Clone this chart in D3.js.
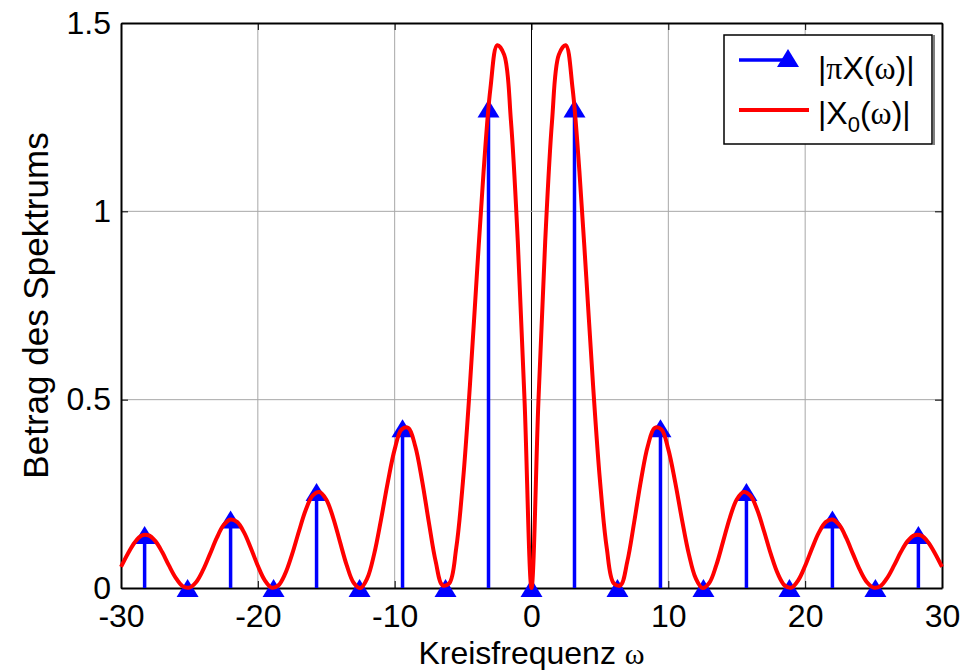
<!DOCTYPE html>
<html>
<head>
<meta charset="utf-8">
<script src="https://cdn.jsdelivr.net/npm/d3@7"></script>
<style>
  body { margin: 0; background: #fff; }
  svg { display: block; font-family: "Liberation Sans", Arial, sans-serif; }
</style>
</head>
<body>
<svg width="976" height="670"></svg>
<script>
// stem samples: omega = k*pi, k = -9..9
var stemOmega = [-28.274, -25.133, -21.991, -18.850, -15.708, -12.566, -9.425, -6.283, -3.142, 0,
                 3.142, 6.283, 9.425, 12.566, 15.708, 18.850, 21.991, 25.133, 28.274];
var stemValues = [0.141, 0, 0.182, 0, 0.255, 0, 0.424, 0, 1.273, 0,
                  1.273, 0, 0.424, 0, 0.255, 0, 0.182, 0, 0.141];

// continuous spectrum |X0(w)|, read every 0.5 from -30 to 30
var curveStart = -30, curveStep = 0.5;
var curveValues = [
  0.056, 0.091, 0.121, 0.139, 0.140, 0.125, 0.096, 0.060, 0.027, 0.005,
  0.001, 0.016, 0.048, 0.090, 0.133, 0.167, 0.182, 0.175, 0.147, 0.105,
  0.059, 0.021, 0.001, 0.007, 0.038, 0.089, 0.150, 0.207, 0.245, 0.255,
  0.235, 0.187, 0.123, 0.060, 0.014, 0.000, 0.026, 0.090, 0.181, 0.281,
  0.368, 0.421, 0.425, 0.377, 0.286, 0.174, 0.070, 0.007, 0.013, 0.106,
  0.287, 0.538, 0.827, 1.107, 1.327, 1.441, 1.416, 1.239, 0.919, 0.490,
  0,
  0.490, 0.919, 1.239, 1.416, 1.441, 1.327, 1.107, 0.827, 0.538, 0.287,
  0.106, 0.013, 0.007, 0.070, 0.174, 0.286, 0.377, 0.425, 0.421, 0.368,
  0.281, 0.181, 0.090, 0.026, 0.000, 0.014, 0.060, 0.123, 0.187, 0.235,
  0.255, 0.245, 0.207, 0.150, 0.089, 0.038, 0.007, 0.001, 0.021, 0.059,
  0.105, 0.147, 0.175, 0.182, 0.167, 0.133, 0.090, 0.048, 0.016, 0.001,
  0.005, 0.027, 0.060, 0.096, 0.125, 0.140, 0.139, 0.121, 0.091, 0.056
];

var xTicks = [-30, -20, -10, 0, 10, 20, 30];
var yTicks = [0, 0.5, 1, 1.5];

var svg = d3.select("svg"),
    margin = {top: 23, right: 34, bottom: 82, left: 121},
    width = +svg.attr("width") - margin.left - margin.right,
    height = +svg.attr("height") - margin.top - margin.bottom,
    g = svg.append("g").attr("transform", "translate(" + margin.left + "," + margin.top + ")");

var x = d3.scaleLinear().domain([-30, 30]).range([0, width]);
var y = d3.scaleLinear().domain([0, 1.5]).range([height, 0]);

// grid
g.selectAll(".gx").data(xTicks.slice(1, -1)).enter().append("line")
    .attr("x1", function(d) { return x(d); }).attr("x2", function(d) { return x(d); })
    .attr("y1", 0).attr("y2", height)
    .attr("stroke", function(d) { return d === 0 ? "#000" : "#a8a8a8"; })
    .attr("stroke-width", 1);
g.selectAll(".gy").data(yTicks.slice(1, -1)).enter().append("line")
    .attr("x1", 0).attr("x2", width)
    .attr("y1", function(d) { return y(d); }).attr("y2", function(d) { return y(d); })
    .attr("stroke", "#a8a8a8")
    .attr("stroke-width", 1);

// axes
var fmt = function(d) { return String(d); };

g.append("g")
    .attr("transform", "translate(0," + height + ")")
    .call(d3.axisBottom(x).tickValues(xTicks).tickFormat(fmt).tickSizeInner(-7).tickSizeOuter(0).tickPadding(16));
g.append("g")
    .call(d3.axisLeft(y).tickValues(yTicks).tickFormat(fmt).tickSizeInner(-7).tickSizeOuter(0).tickPadding(10));
g.append("g")
    .call(d3.axisTop(x).tickValues(xTicks).tickFormat("").tickSizeInner(-7).tickSizeOuter(0));
g.append("g")
    .attr("transform", "translate(" + width + ",0)")
    .call(d3.axisRight(y).tickValues(yTicks).tickFormat("").tickSizeInner(-7).tickSizeOuter(0));

g.selectAll(".domain").attr("stroke", "#000").attr("stroke-width", 2);
g.selectAll(".tick line").attr("stroke", "#000");
g.selectAll(".tick text")
    .attr("fill", "#000")
    .style("font-family", "'Liberation Sans', Arial, sans-serif")
    .style("font-size", "32px");

// stems
var stems = stemOmega.map(function(w, i) { return {w: w, v: stemValues[i]}; });

g.selectAll(".stem").data(stems.filter(function(d) { return d.v > 0; })).enter().append("line")
    .attr("x1", function(d) { return x(d.w); }).attr("x2", function(d) { return x(d.w); })
    .attr("y1", y(0)).attr("y2", function(d) { return y(d.v); })
    .attr("stroke", "#0000ff")
    .attr("stroke-width", 3.5);

var tri = "M0,-9L11,9L-11,9Z";
g.selectAll(".mark").data(stems).enter().append("path")
    .attr("d", tri)
    .attr("transform", function(d) { return "translate(" + x(d.w) + "," + y(d.v) + ")"; })
    .attr("fill", "#0000ff");

// continuous curve
var line = d3.line()
    .x(function(d, i) { return x(curveStart + i * curveStep); })
    .y(function(d) { return y(d); })
    .curve(d3.curveCatmullRom);

g.append("path")
    .datum(curveValues)
    .attr("fill", "none")
    .attr("stroke", "#ff0000")
    .attr("stroke-width", 4)
    .attr("stroke-linejoin", "round")
    .attr("d", line);

// axis labels
svg.append("text")
    .attr("x", margin.left + width / 2)
    .attr("y", 664)
    .attr("text-anchor", "middle")
    .style("font-size", "32px")
    .text("Kreisfrequenz ")
  .append("tspan")
    .style("font-family", "'Liberation Serif', 'Times New Roman', serif")
    .style("font-size", "30px")
    .text("ω");

svg.append("text")
    .attr("transform", "translate(48," + (margin.top + height / 2) + ") rotate(-90)")
    .attr("text-anchor", "middle")
    .style("font-size", "35px")
    .text("Betrag des Spektrums");

// legend
var lg = svg.append("g");
lg.append("line").attr("x1", 934).attr("x2", 934).attr("y1", 35).attr("y2", 145)
    .attr("stroke", "#000").attr("stroke-width", 1);
lg.append("rect")
    .attr("x", 724).attr("y", 35).attr("width", 208).attr("height", 109)
    .attr("fill", "#fff").attr("stroke", "#000").attr("stroke-width", 1.5);

lg.append("line").attr("x1", 739).attr("x2", 788).attr("y1", 60).attr("y2", 60)
    .attr("stroke", "#0000ff").attr("stroke-width", 3.5);
lg.append("path").attr("d", tri).attr("transform", "translate(788,58)").attr("fill", "#0000ff");
lg.append("line").attr("x1", 739).attr("x2", 809).attr("y1", 110).attr("y2", 110)
    .attr("stroke", "#ff0000").attr("stroke-width", 4);

var serif = "'Liberation Serif', 'Times New Roman', serif";
var t1 = lg.append("text").attr("x", 818).attr("y", 79).style("font-size", "32px");
t1.append("tspan").text("|");
t1.append("tspan").style("font-family", serif).text("π");
t1.append("tspan").text("X(");
t1.append("tspan").style("font-family", serif).text("ω");
t1.append("tspan").text(")|");

var t2 = lg.append("text").attr("x", 818).attr("y", 124).style("font-size", "32px");
t2.append("tspan").text("|X");
t2.append("tspan").attr("dy", 8).style("font-size", "22px").text("0");
t2.append("tspan").attr("dy", -8).text("(");
t2.append("tspan").style("font-family", serif).text("ω");
t2.append("tspan").text(")|");
</script>
</body>
</html>
